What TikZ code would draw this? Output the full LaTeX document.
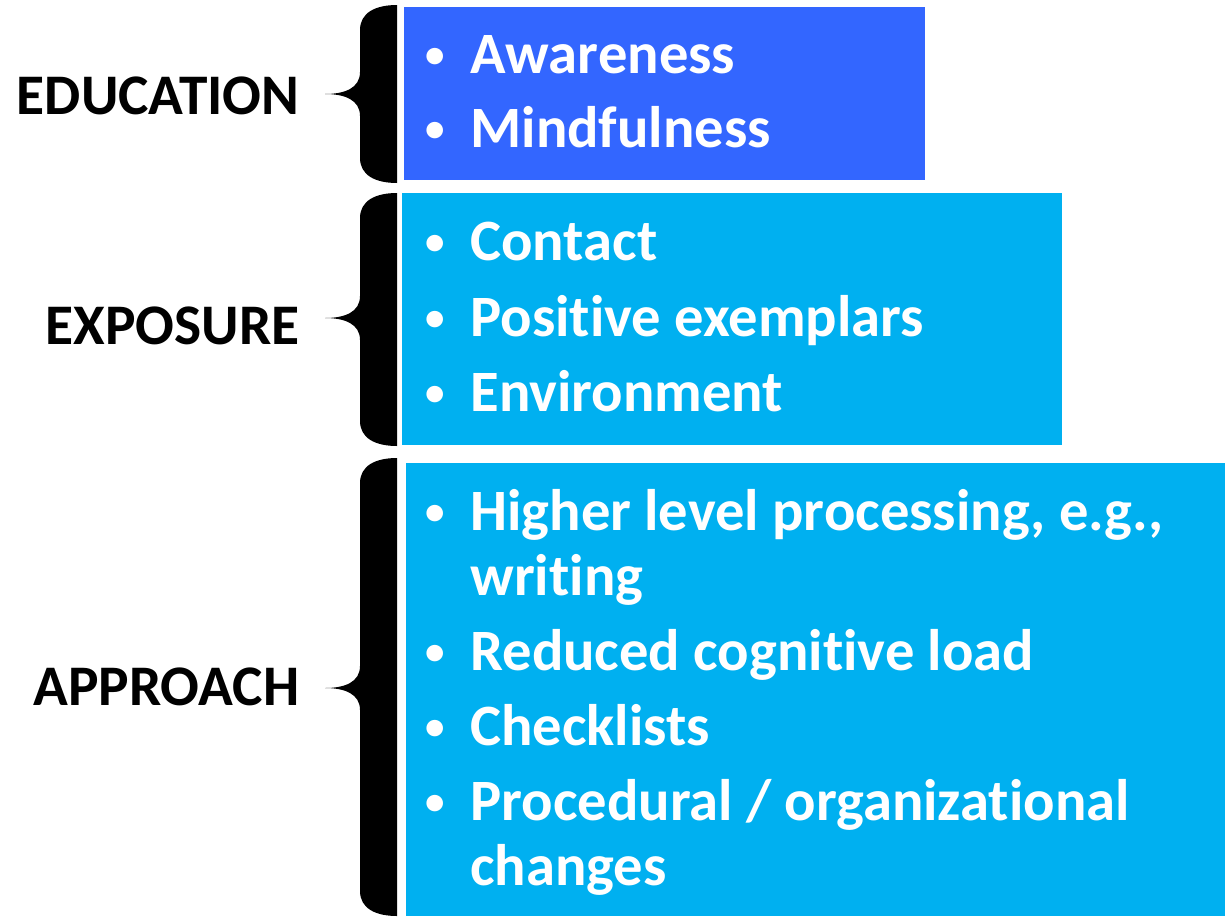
\documentclass[tikz,border=0pt]{standalone}
\usepackage{fontspec}
\setmainfont{Carlito}[Script=Latin,Ligatures=NoCommon]

\definecolor{eduBlue}{RGB}{51,102,255}
\definecolor{skyBlue}{RGB}{0,176,240}

\begin{document}
\begin{tikzpicture}[x=0.5pt,y=-0.5pt,
    every node/.style={inner sep=0pt,font=\fontsize{29.3}{35}\selectfont\bfseries},
    group/.style={anchor=base east,text=black,font=\fontsize{28.7}{35}\selectfont\bfseries},
    item/.style={anchor=base west,text=white},
    dot/.style={anchor=base,text=white,font=\fontsize{19.5}{24}\selectfont\bfseries}]

    \useasboundingbox (0,0) rectangle (1225,916);

    % coloured boxes
    \fill [eduBlue] (404,7) rectangle (925,180);
    \fill [skyBlue] (402,193) rectangle (1062,445);
    \fill [skyBlue] (406,463) rectangle (1225,916);

    % braces: top / tip / bottom
    \foreach \t/\m/\b in {5/94/183, 193/318/446, 458/688/916} {
        \fill (397,\t) .. controls (375,\t) and (360,\t+8) .. (360,\t+25)
            -- (360,\m-22) .. controls (360,\m-6) and (345,\m) .. (325,\m)
            .. controls (345,\m) and (360,\m+6) .. (360,\m+22)
            -- (360,\b-25) .. controls (360,\b-8) and (375,\b) .. (397,\b) -- cycle;
    }

    % group labels
    \node [group] (edu) at (300,114) {EDUCATION};
    \node [group] (expo) at (300,344) {EXPOSURE};
    \node [group] (appr) at (300,705) {APPROACH};

    % education
    \node [dot] (d1) at (435,67) {•};
    \node [item] (aware) at (470,73) {Awareness};
    \node [dot] (d2) at (435,141) {•};
    \node [item] (mind) at (470,147) {Mindfulness};

    % exposure
    \node [dot] (d3) at (435,254) {•};
    \node [item] (contact) at (470,260) {Contact};
    \node [dot] (d4) at (435,330) {•};
    \node [item] (exemp) at (470,336) {Posit\kern0pt ive exemplars};
    \node [dot] (d5) at (435,405) {•};
    \node [item] (env) at (470,411) {Environment};

    % approach
    \node [dot] (d6) at (435,524) {•};
    \node [item] (higher) at (470,530) {Higher level processing, e.g.,};
    \node [item] (writing) at (470,595) {writ\kern0pt ing};
    \node [dot] (d7) at (435,664) {•};
    \node [item] (load) at (470,670) {Reduced cognit\kern0pt ive load};
    \node [dot] (d8) at (435,739) {•};
    \node [item] (check) at (470,745) {Checklists};
    \node [dot] (d9) at (435,814) {•};
    \node [item] (proc) at (470,820) {Procedural / organizat\kern0pt ional};
    \node [item] (changes) at (470,885) {changes};

\end{tikzpicture}
\end{document}
